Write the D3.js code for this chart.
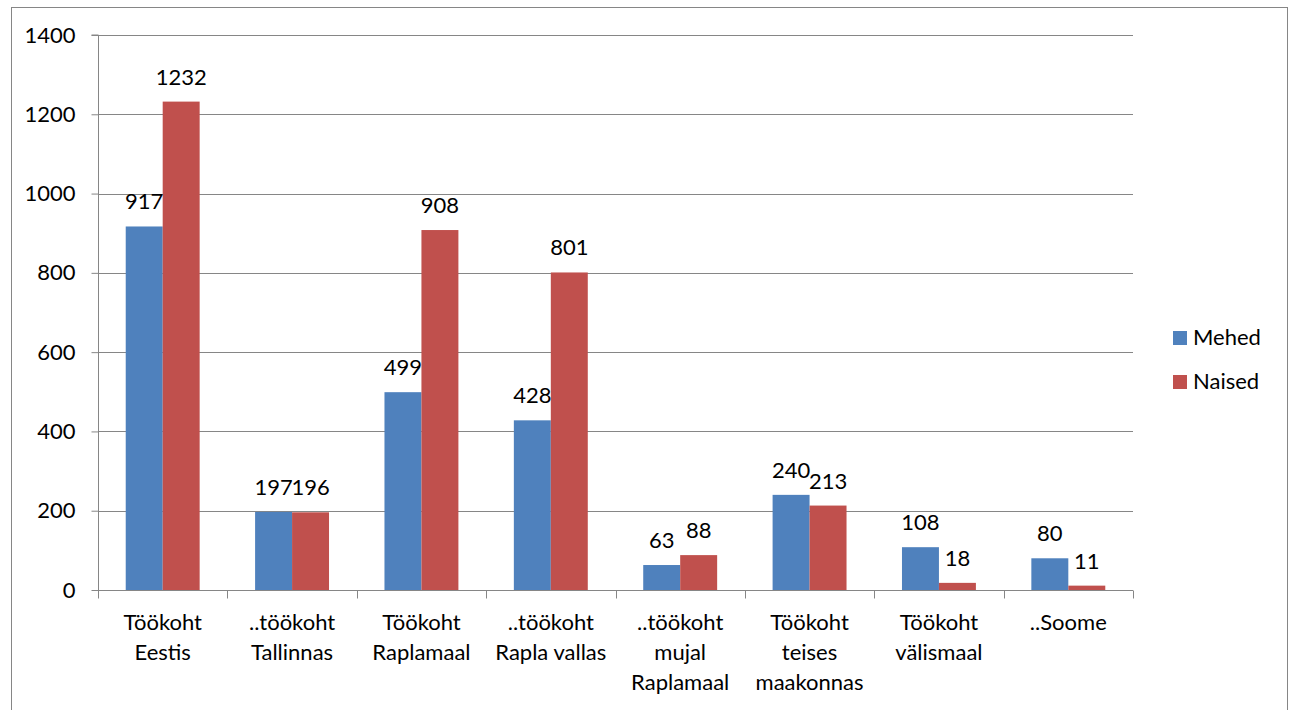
<!DOCTYPE html>
<html>
<head>
<meta charset="utf-8">
<script src="https://cdn.jsdelivr.net/npm/d3@7"></script>
<style>
  body { margin: 0; background: #fff; }
  svg { font-family: Lato, Calibri, "Open Sans", sans-serif; }
</style>
</head>
<body>
<div class="chart"></div>
<script>
// data
const categories = ["Töökoht Eestis", "..töökoht Tallinnas", "Töökoht Raplamaal", "..töökoht Rapla vallas",
    "..töökoht mujal Raplamaal", "Töökoht teises maakonnas", "Töökoht välismaal", "..Soome"];
const categoryLines = [["Töökoht", "Eestis"], ["..töökoht", "Tallinnas"], ["Töökoht", "Raplamaal"],
    ["..töökoht", "Rapla vallas"], ["..töökoht", "mujal", "Raplamaal"], ["Töökoht", "teises", "maakonnas"],
    ["Töökoht", "välismaal"], ["..Soome"]];
const seriesNames = ["Mehed", "Naised"];
const mehed = [917, 197, 499, 428, 63, 240, 108, 80];
const naised = [1232, 196, 908, 801, 88, 213, 18, 11];
const yTicks = [0, 200, 400, 600, 800, 1000, 1200, 1400];

const colors = { Mehed: "#4F81BD", Naised: "#C0504D" };
const axisColor = "#868686";
const fontSize = 22;

const width = 1289, height = 710;
const margin = { top: 35, right: 156, bottom: 120, left: 98 };

const svg = d3.select('.chart').append('svg')
    .attr('width', width)
    .attr('height', height);

// outer chart border
svg.append('rect')
    .attr('x', 11.5).attr('y', 7.5)
    .attr('width', 1276).attr('height', 720)
    .attr('fill', 'none')
    .attr('stroke', axisColor)
    .attr('stroke-width', 1);

const x = d3.scaleBand()
    .domain(categories)
    .range([margin.left, width - margin.right]);

const xInner = d3.scaleBand()
    .domain(seriesNames)
    .range([0, x.bandwidth()])
    .paddingInner(0)
    .paddingOuter(0.75);

const y = d3.scaleLinear()
    .domain([0, 1400])
    .range([height - margin.bottom, margin.top]);

// gridlines
svg.append('g')
    .selectAll('line')
    .data(yTicks.slice(1))
    .join('line')
    .attr('x1', margin.left)
    .attr('x2', width - margin.right)
    .attr('y1', d => Math.round(y(d)) + 0.5)
    .attr('y2', d => Math.round(y(d)) + 0.5)
    .attr('stroke', axisColor);

const rows = categories.map((c, i) => ({ cat: c, values: [
    { key: "Mehed", value: mehed[i] },
    { key: "Naised", value: naised[i] }
]}));

const groups = svg.append('g')
    .selectAll('g')
    .data(rows)
    .join('g')
    .attr('transform', d => `translate(${x(d.cat)},0)`);

groups.selectAll('rect')
    .data(d => d.values)
    .join('rect')
    .attr('x', d => xInner(d.key))
    .attr('width', xInner.bandwidth())
    .attr('y', d => y(d.value))
    .attr('height', d => y(0) - y(d.value))
    .attr('fill', d => colors[d.key]);

groups.selectAll('text')
    .data(d => d.values)
    .join('text')
    .attr('x', d => xInner(d.key) + xInner.bandwidth() / 2)
    .attr('y', d => y(d.value) - 17)
    .attr('text-anchor', 'middle')
    .attr('font-size', fontSize)
    .attr('fill', '#000')
    .text(d => d.value);

// y axis
const yAxis = svg.append('g')
    .attr('transform', `translate(${margin.left + 0.5},0)`)
    .call(d3.axisLeft(y).tickValues(yTicks).tickFormat(d3.format('d')).tickSize(7).tickPadding(16))
yAxis.attr('font-family', null).attr('font-size', null);
yAxis.select('.domain').attr('stroke', axisColor).attr('d', `M-7,${y(1400)}H0V${y(0)}`);
yAxis.selectAll('.tick line').attr('stroke', axisColor);
yAxis.selectAll('.tick text').attr('font-size', fontSize).attr('fill', '#000');

// x axis
const xAxisG = svg.append('g')
    .attr('transform', `translate(0,${Math.round(y(0)) + 0.5})`);
xAxisG.append('line')
    .attr('x1', margin.left).attr('x2', width - margin.right)
    .attr('stroke', axisColor);
xAxisG.selectAll('.xtick')
    .data(categories.concat([null]))
    .join('line')
    .attr('class', 'xtick')
    .attr('x1', (d, i) => Math.round(margin.left + i * x.step()) + 0.5)
    .attr('x2', (d, i) => Math.round(margin.left + i * x.step()) + 0.5)
    .attr('y1', 0).attr('y2', 8)
    .attr('stroke', axisColor);

const labels = xAxisG.selectAll('.xlabel')
    .data(categories)
    .join('text')
    .attr('class', 'xlabel')
    .attr('text-anchor', 'middle')
    .attr('font-size', fontSize)
    .attr('fill', '#000');
labels.selectAll('tspan')
    .data((d, i) => categoryLines[i].map(t => ({ t, cx: x(d) + x.bandwidth() / 2 })))
    .join('tspan')
    .attr('x', d => d.cx)
    .attr('y', (d, i) => 39 + i * 30)
    .text(d => d.t);

// legend
const legend = svg.append('g')
    .attr('transform', 'translate(1173,331)');
const li = legend.selectAll('g')
    .data(seriesNames)
    .join('g')
    .attr('transform', (d, i) => `translate(0,${i * 44})`);
li.append('rect')
    .attr('width', 14).attr('height', 14)
    .attr('fill', d => colors[d]);
li.append('text')
    .attr('x', 20).attr('y', 14)
    .attr('font-size', fontSize)
    .attr('fill', '#000')
    .text(d => d);
</script>
</body>
</html>
